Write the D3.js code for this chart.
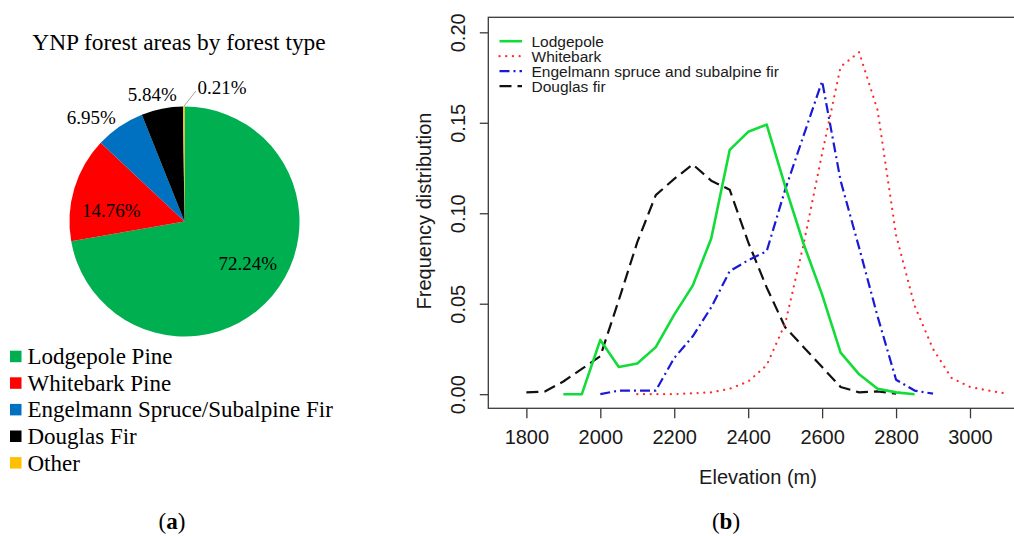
<!DOCTYPE html>
<html>
<head>
<meta charset="utf-8">
<script src="https://cdn.jsdelivr.net/npm/d3@7"></script>
<style>
  body { margin: 0; background: #fff; }
  svg { display: block; }
</style>
</head>
<body>
<svg id="fig" width="1014" height="536"></svg>
<script>
// ---------- (a) forest area shares ----------
const forestTypes = ["Lodgepole Pine", "Whitebark Pine", "Engelmann Spruce/Subalpine Fir", "Douglas Fir", "Other"];
const areaShares = [72.24, 14.76, 6.95, 5.84, 0.21];
const pieColors = ["#00b050", "#ff0000", "#0070c0", "#000000", "#ffc000"];

// ---------- (b) frequency distribution by elevation ----------
const seriesNames = ["Lodgepole", "Whitebark", "Engelmann spruce and subalpine fir", "Douglas fir"];

const lodgepoleElev = [1900, 1950, 2000, 2050, 2100, 2150, 2200, 2250, 2300, 2350, 2400, 2450, 2500, 2550, 2600, 2650, 2700, 2750, 2800, 2850];
const lodgepoleFreq = [0, 0, 0.030, 0.015, 0.017, 0.026, 0.044, 0.060, 0.086, 0.135, 0.145, 0.149, 0.115, 0.083, 0.055, 0.023, 0.011, 0.003, 0.001, 0];

const whitebarkElev = [2100, 2150, 2200, 2250, 2300, 2350, 2400, 2450, 2500, 2550, 2600, 2650, 2700, 2750, 2800, 2850, 2900, 2950, 3000, 3050, 3100];
const whitebarkFreq = [0, 0, 0, 0.0005, 0.001, 0.003, 0.007, 0.016, 0.039, 0.083, 0.133, 0.181, 0.189, 0.157, 0.088, 0.049, 0.025, 0.009, 0.004, 0.002, 0.0003];

const engelmannElev = [2000, 2050, 2100, 2150, 2200, 2250, 2300, 2350, 2400, 2450, 2500, 2550, 2600, 2650, 2700, 2750, 2800, 2850, 2900];
const engelmannFreq = [0, 0.002, 0.002, 0.002, 0.020, 0.032, 0.048, 0.068, 0.074, 0.079, 0.113, 0.143, 0.173, 0.118, 0.081, 0.043, 0.008, 0.002, 0.0003];

const douglasElev = [1800, 1850, 1900, 1950, 2000, 2050, 2100, 2150, 2200, 2250, 2300, 2350, 2400, 2450, 2500, 2550, 2600, 2650, 2700, 2750, 2800];
const douglasFreq = [0.001, 0.0015, 0.007, 0.014, 0.021, 0.052, 0.084, 0.110, 0.119, 0.127, 0.118, 0.113, 0.084, 0.059, 0.037, 0.026, 0.015, 0.004, 0.001, 0.0015, 0.0003];

const elevTicks = [1800, 2000, 2200, 2400, 2600, 2800, 3000];
const freqTicks = [0.00, 0.05, 0.10, 0.15, 0.20];

const svg = d3.select("#fig");
svg.append("rect").attr("width", 1014).attr("height", 536).attr("fill", "#fff");

const serif = "'Liberation Serif', 'Times New Roman', serif";
const sans = "'Liberation Sans', Arial, Helvetica, sans-serif";

// ================= Panel (a): pie chart =================
svg.append("text")
  .attr("x", 179).attr("y", 50)
  .attr("text-anchor", "middle")
  .style("font-family", serif).style("font-size", "23.4px")
  .text("YNP forest areas by forest type");

const R = 115;
const pieG = svg.append("g").attr("transform", "translate(184.5,221.5)");
const slices = d3.pie().sort(null).value(d => d)(areaShares);
const arc = d3.arc().innerRadius(0).outerRadius(R);

pieG.selectAll("path.slice")
  .data(slices)
  .join("path")
  .attr("class", "slice")
  .attr("d", arc)
  .attr("fill", (d, i) => pieColors[i]);

// label placement: angular shift (deg) from slice middle and radius
const labelLayout = [
  { shift: -6.5, r: 76 },
  { shift: -8, r: 74 },
  { shift: -7.4, r: 140 },
  { shift: -3, r: 131 },
  { shift: 16, r: 139 }
];
const polar = (deg, r) => [Math.sin(deg * Math.PI / 180) * r, -Math.cos(deg * Math.PI / 180) * r];

slices.forEach((s, i) => {
  const mid = (s.startAngle + s.endAngle) / 2 * 180 / Math.PI;
  const [lx, ly] = polar(mid + labelLayout[i].shift, labelLayout[i].r);
  pieG.append("text")
    .attr("x", lx).attr("y", ly).attr("dy", "0.35em")
    .attr("text-anchor", "middle")
    .style("font-family", serif).style("font-size", "19px")
    .text(d3.format(".2f")(s.data) + "%");
  if (i === slices.length - 1) {
    const [x0, y0] = polar(mid, R);
    const [x1, y1] = polar(5, 131);
    pieG.append("line")
      .attr("x1", x0).attr("y1", y0).attr("x2", x1).attr("y2", y1)
      .attr("stroke", "#a6a6a6").attr("stroke-width", 1);
  }
});

// legend
const legA = svg.append("g").attr("transform", "translate(10,356.7)");
forestTypes.forEach((name, i) => {
  const y = i * 26.6;
  legA.append("rect")
    .attr("x", 0).attr("y", y - 6).attr("width", 11.5).attr("height", 11.5)
    .attr("fill", pieColors[i]);
  legA.append("text")
    .attr("x", 17.5).attr("y", y + 7.5)
    .style("font-family", serif).style("font-size", "23px")
    .text(name);
});

const capA = svg.append("text")
  .attr("x", 172).attr("y", 529).attr("text-anchor", "middle")
  .style("font-family", serif).style("font-size", "23px");
capA.append("tspan").text("(");
capA.append("tspan").style("font-weight", "bold").text("a");
capA.append("tspan").text(")");

// ================= Panel (b): elevation curves =================
const x = d3.scaleLinear().domain([1697, 3155]).range([488.3, 1027.3]);
const y = d3.scaleLinear().domain([-0.0078, 0.2083]).range([408.3, 17.3]);
const axisColor = "#3a3a3a";

// plot frame
svg.append("rect")
  .attr("x", x.range()[0]).attr("y", y.range()[1])
  .attr("width", x.range()[1] - x.range()[0])
  .attr("height", y.range()[0] - y.range()[1])
  .attr("fill", "none").attr("stroke", axisColor).attr("stroke-width", 1.3);

const xAxis = svg.append("g")
  .attr("transform", `translate(0,${y.range()[0]})`)
  .call(d3.axisBottom(x).tickValues(elevTicks).tickSize(10).tickPadding(11.5).tickSizeOuter(0).tickFormat(d3.format("d")));
xAxis.select(".domain").remove();
xAxis.selectAll("line").attr("stroke", axisColor).attr("stroke-width", 1.3);
xAxis.selectAll("text").style("font-family", sans).style("font-size", "20px").attr("fill", "#1a1a1a");

const yAxis = svg.append("g")
  .attr("transform", `translate(${x.range()[0]},0)`)
  .call(d3.axisLeft(y).tickValues(freqTicks).tickSize(8.5).tickSizeOuter(0).tickFormat(d3.format(".2f")));
yAxis.select(".domain").remove();
yAxis.selectAll("line").attr("stroke", axisColor).attr("stroke-width", 1.3);
// tick labels read bottom-to-top, centred on each tick
yAxis.selectAll("text")
  .attr("x", 0).attr("y", 0).attr("dy", null)
  .attr("text-anchor", "middle")
  .attr("transform", `translate(${465 - x.range()[0]},0) rotate(-90)`)
  .style("font-family", sans).style("font-size", "20px").attr("fill", "#1a1a1a");

svg.append("text")
  .attr("transform", "translate(431,211) rotate(-90)")
  .attr("text-anchor", "middle")
  .style("font-family", sans).style("font-size", "20px").attr("fill", "#1a1a1a")
  .text("Frequency distribution");

svg.append("text")
  .attr("x", 758).attr("y", 484.3).attr("text-anchor", "middle")
  .style("font-family", sans).style("font-size", "20px").attr("fill", "#1a1a1a")
  .text("Elevation (m)");

const capB = svg.append("text")
  .attr("x", 726).attr("y", 529).attr("text-anchor", "middle")
  .style("font-family", serif).style("font-size", "23px");
capB.append("tspan").text("(");
capB.append("tspan").style("font-weight", "bold").text("b");
capB.append("tspan").text(")");

const series = [
  { name: seriesNames[0], elev: lodgepoleElev, freq: lodgepoleFreq, color: "#12dc38", width: 2.6, dash: null, cap: "butt" },
  { name: seriesNames[1], elev: whitebarkElev, freq: whitebarkFreq, color: "#ff2a2a", width: 2.2, dash: "0.1,6.6", cap: "round" },
  { name: seriesNames[2], elev: engelmannElev, freq: engelmannFreq, color: "#1a1ad6", width: 2.2, dash: "10,4,2,4", cap: "butt" },
  { name: seriesNames[3], elev: douglasElev, freq: douglasFreq, color: "#111111", width: 2.2, dash: "12,6", cap: "butt" }
];

const line = d3.line().x(d => x(d[0])).y(d => y(d[1]));
const clipId = "plotClip";
svg.append("clipPath").attr("id", clipId).append("rect")
  .attr("x", x.range()[0]).attr("y", y.range()[1])
  .attr("width", x.range()[1] - x.range()[0]).attr("height", y.range()[0] - y.range()[1]);

const plotG = svg.append("g").attr("clip-path", `url(#${clipId})`);
// draw order: black, blue, red, green on top
[3, 2, 1, 0].forEach(k => {
  const s = series[k];
  plotG.append("path")
    .datum(d3.zip(s.elev, s.freq))
    .attr("d", line)
    .attr("fill", "none")
    .attr("stroke", s.color)
    .attr("stroke-width", s.width)
    .attr("stroke-linecap", s.cap)
    .attr("stroke-linejoin", "round")
    .attr("stroke-dasharray", s.dash);
});

// legend
const legB = svg.append("g").attr("transform", "translate(499.5,41.2)");
series.forEach((s, i) => {
  const yy = i * 15;
  legB.append("line")
    .attr("x1", 0).attr("x2", 22.5).attr("y1", yy).attr("y2", yy)
    .attr("stroke", s.color).attr("stroke-width", s.width)
    .attr("stroke-linecap", s.cap)
    .attr("stroke-dasharray", s.dash);
  legB.append("text")
    .attr("x", 32).attr("y", yy + 5.5)
    .style("font-family", sans).style("font-size", "15.5px").attr("fill", "#1a1a1a")
    .text(s.name);
});
</script>
</body>
</html>
